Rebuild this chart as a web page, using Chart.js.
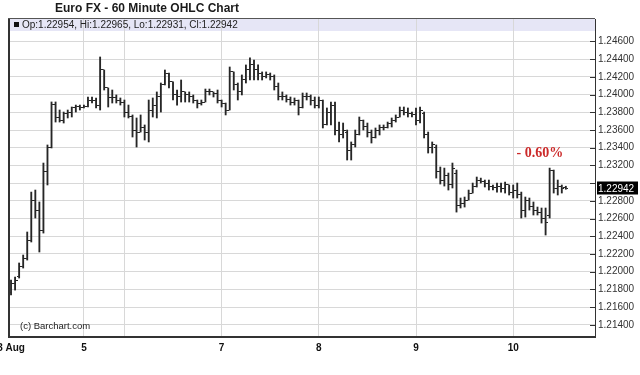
<!DOCTYPE html>
<html><head><meta charset="utf-8">
<script src="https://cdn.jsdelivr.net/npm/chart.js@4.4.0/dist/chart.umd.min.js"></script>
<style>html,body{margin:0;padding:0;background:#fff;}#wrap{width:640px;height:375px;position:relative;}</style>
</head><body><div id="wrap"><canvas id="c" width="640" height="375"></canvas></div>
<script>
// ---- data (hourly bars, index = bar sequence) ----
const opens = [1.21770,1.21871,1.21950,1.22063,1.22154,1.22357,1.22809,1.22696,1.22470,1.23126,
 1.23397,1.23883,1.23736,1.23713,1.23792,1.23803,1.23849,1.23871,1.23849,1.23871,
 1.23939,1.23928,1.23882,1.24278,1.24075,1.23962,1.23962,1.23939,1.23916,1.23803,
 1.23758,1.23600,1.23577,1.23623,1.23577,1.23826,1.23882,1.23984,1.24109,1.24233,
 1.24143,1.23996,1.23984,1.24030,1.23996,1.23984,1.23939,1.23894,1.23916,1.24030,
 1.24030,1.24007,1.23939,1.23905,1.23826,1.24256,1.24109,1.24030,1.24165,1.24278,
 1.24335,1.24278,1.24233,1.24210,1.24222,1.24199,1.24097,1.23984,1.23973,1.23950,
 1.23916,1.23939,1.23849,1.23984,1.23973,1.23939,1.23882,1.23939,1.23657,1.23803,
 1.23882,1.23600,1.23544,1.23577,1.23374,1.23431,1.23544,1.23713,1.23645,1.23577,
 1.23510,1.23600,1.23623,1.23634,1.23668,1.23713,1.23747,1.23826,1.23803,1.23781,
 1.23770,1.23713,1.23792,1.23544,1.23397,1.23397,1.23126,1.23035,1.23091,1.22979,
 1.23114,1.22753,1.22775,1.22809,1.22888,1.22967,1.23035,1.23024,1.23001,1.22967,
 1.22956,1.22967,1.22945,1.22979,1.22899,1.22922,1.22866,1.22696,1.22809,1.22741,
 1.22696,1.22673,1.22606,1.22640,1.23148,1.22945,1.22967,1.22954];
const highs = [1.21905,1.21939,1.22098,1.22188,1.22448,1.22899,1.22922,1.22787,1.23227,1.23431,
 1.23917,1.23917,1.23826,1.23803,1.23826,1.23860,1.23882,1.23882,1.23882,1.23973,
 1.23973,1.23962,1.24425,1.24278,1.24075,1.24052,1.23996,1.23962,1.23939,1.23882,
 1.23770,1.23736,1.23770,1.23657,1.23939,1.23962,1.24030,1.24131,1.24278,1.24244,
 1.24143,1.24052,1.24165,1.24030,1.24030,1.23996,1.23939,1.23939,1.24063,1.24063,
 1.24030,1.24052,1.23939,1.23905,1.24312,1.24256,1.24131,1.24222,1.24335,1.24414,
 1.24391,1.24335,1.24256,1.24256,1.24244,1.24222,1.24131,1.24030,1.23996,1.23973,
 1.23962,1.23939,1.24018,1.24018,1.23996,1.23973,1.23973,1.23939,1.23849,1.23916,
 1.23916,1.23690,1.23679,1.23600,1.23465,1.23600,1.23747,1.23713,1.23679,1.23600,
 1.23623,1.23657,1.23657,1.23690,1.23736,1.23770,1.23860,1.23860,1.23849,1.23803,
 1.23849,1.23860,1.23803,1.23577,1.23465,1.23431,1.23182,1.23170,1.23114,1.23227,
 1.23148,1.22832,1.22843,1.22922,1.23001,1.23069,1.23057,1.23035,1.23035,1.22979,
 1.23001,1.23001,1.23012,1.22979,1.22979,1.23001,1.22899,1.22843,1.22832,1.22787,
 1.22730,1.22719,1.22719,1.23170,1.23148,1.23035,1.22979,1.22965];
const lows = [1.21736,1.21792,1.21928,1.22041,1.22131,1.22335,1.22606,1.22222,1.22436,1.22979,
 1.23397,1.23690,1.23690,1.23679,1.23736,1.23747,1.23803,1.23826,1.23849,1.23860,
 1.23905,1.23849,1.23826,1.24052,1.23860,1.23905,1.23905,1.23882,1.23747,1.23736,
 1.23521,1.23408,1.23577,1.23487,1.23465,1.23747,1.23736,1.23803,1.24109,1.24075,
 1.23939,1.23882,1.23916,1.23916,1.23916,1.23905,1.23849,1.23882,1.23916,1.23996,
 1.23973,1.23905,1.23860,1.23770,1.23826,1.24052,1.23939,1.23996,1.24131,1.24165,
 1.24165,1.24165,1.24165,1.24188,1.24165,1.24052,1.23939,1.23939,1.23916,1.23882,
 1.23882,1.23770,1.23849,1.23939,1.23882,1.23849,1.23849,1.23623,1.23657,1.23657,
 1.23544,1.23465,1.23510,1.23261,1.23261,1.23408,1.23544,1.23600,1.23521,1.23453,
 1.23510,1.23544,1.23600,1.23623,1.23634,1.23690,1.23747,1.23770,1.23747,1.23747,
 1.23657,1.23679,1.23510,1.23340,1.23340,1.23057,1.22990,1.22967,1.22922,1.22945,
 1.22673,1.22719,1.22730,1.22809,1.22888,1.22956,1.23001,1.22956,1.22922,1.22922,
 1.22899,1.22899,1.22888,1.22866,1.22832,1.22832,1.22606,1.22617,1.22696,1.22640,
 1.22640,1.22549,1.22414,1.22606,1.22888,1.22866,1.22888,1.22931];
const closes = [1.21871,1.21905,1.22063,1.22154,1.22357,1.22809,1.22696,1.22470,1.23126,1.23397,
 1.23883,1.23736,1.23713,1.23792,1.23803,1.23849,1.23871,1.23849,1.23871,1.23939,
 1.23928,1.23882,1.24278,1.24075,1.23962,1.23962,1.23939,1.23916,1.23803,1.23758,
 1.23600,1.23577,1.23623,1.23577,1.23826,1.23882,1.23984,1.24109,1.24233,1.24143,
 1.23996,1.23984,1.24030,1.23996,1.23984,1.23939,1.23894,1.23916,1.24030,1.24030,
 1.24007,1.23939,1.23905,1.23826,1.24256,1.24109,1.24030,1.24165,1.24278,1.24335,
 1.24278,1.24233,1.24210,1.24222,1.24199,1.24097,1.23984,1.23973,1.23950,1.23916,
 1.23939,1.23849,1.23984,1.23973,1.23939,1.23882,1.23939,1.23657,1.23803,1.23882,
 1.23600,1.23544,1.23600,1.23374,1.23431,1.23544,1.23713,1.23645,1.23577,1.23510,
 1.23600,1.23623,1.23634,1.23668,1.23713,1.23747,1.23826,1.23803,1.23781,1.23770,
 1.23713,1.23826,1.23544,1.23397,1.23431,1.23126,1.23035,1.23091,1.22979,1.23170,
 1.22753,1.22775,1.22809,1.22888,1.22967,1.23035,1.23024,1.23001,1.22967,1.22956,
 1.22967,1.22945,1.22979,1.22899,1.22922,1.22866,1.22696,1.22809,1.22741,1.22696,
 1.22673,1.22606,1.22560,1.23148,1.22945,1.22967,1.22945,1.22942];

const dayTickIndex  = [0, 18, 28, 52, 76, 100, 124];
const dayTickLabels = ['3 Aug', '5', '', '7', '8', '9', '10'];
const yTickValues = [1.214,1.216,1.218,1.220,1.222,1.224,1.226,1.228,1.230,1.232,1.234,1.236,1.238,1.240,1.242,1.244,1.246];
const Y_MIN = 1.21262, Y_MAX = 1.24854;
const X_MIN = -0.5, X_MAX = 144.2;
const titleText = 'Euro FX - 60 Minute OHLC Chart';
const changeText = '- 0.60%';
const changeAt = {x: 130.6, y: 1.23335};
const creditText = '(c) Barchart.com';

const FONT = "'Liberation Sans', Arial, sans-serif";
const BAR = '#262626';
const GRID = '#d8d8d8';

function tickCanvas(side){
  const c = document.createElement('canvas');
  c.width = 5; c.height = 1;
  const g = c.getContext('2d');
  g.fillStyle = BAR;
  g.fillRect(side === 'left' ? 0 : 3, 0, 2, 1);
  return c;
}
const last = opens.length - 1;

const deco = {
  id: 'deco',
  beforeDraw(chart){
    const {ctx, chartArea:a} = chart;
    ctx.save();
    ctx.fillStyle = '#fff';
    ctx.fillRect(0,0,chart.width,chart.height);
    ctx.fillStyle = '#e6e6f6';
    ctx.fillRect(a.left, a.top, a.right-a.left, 12);
    ctx.restore();
  },
  afterDraw(chart){
    const {ctx, chartArea:a, scales} = chart;
    const y = scales.y, x = scales.x;
    ctx.save();
    // frame
    ctx.fillStyle = '#333';
    ctx.fillRect(a.left-1, a.top, 2, a.bottom-a.top);
    ctx.fillStyle = '#555';
    ctx.fillRect(a.left-1, a.top-1, a.right-a.left+1, 1);
    // inside tick marks
    ctx.fillStyle = '#333';
    yTickValues.forEach(v=>{
      const py = Math.round(y.getPixelForValue(v));
      ctx.fillRect(a.right-5, py, 5, 1);
    });
    // title
    ctx.fillStyle = '#1a1a1a';
    ctx.font = 'bold 12px ' + FONT;
    ctx.textAlign = 'center'; ctx.textBaseline = 'middle';
    ctx.fillText(titleText, 147, 8.5);
    // legend line
    ctx.fillStyle = '#111';
    ctx.fillRect(14, 22, 5, 5);
    ctx.font = '10px ' + FONT;
    ctx.textAlign = 'left';
    ctx.fillStyle = '#222';
    const leg = 'Op:' + opens[last].toFixed(5) + ', Hi:' + highs[last].toFixed(5) +
      ', Lo:' + lows[last].toFixed(5) + ', Cl:' + closes[last].toFixed(5);
    ctx.fillText(leg, 22, 25);
    // credit
    ctx.font = '9.5px ' + FONT;
    ctx.fillStyle = '#222';
    ctx.fillText(creditText, 20, 326);
    // change label
    ctx.font = 'bold 14px "Liberation Serif", "Times New Roman", serif';
    ctx.fillStyle = '#cc2a2a';
    ctx.textAlign = 'center';
    ctx.fillText(changeText, x.getPixelForValue(changeAt.x), y.getPixelForValue(changeAt.y));
    // last price box
    const py = y.getPixelForValue(closes[last]);
    ctx.fillStyle = '#000';
    ctx.fillRect(a.right+2, Math.round(py)-6.5, 41, 13);
    ctx.fillStyle = '#fff';
    ctx.font = '10px ' + FONT;
    ctx.textAlign = 'left';
    ctx.fillText(closes[last].toFixed(5), a.right+3, py+0.5);
    ctx.restore();
  }
};

new Chart(document.getElementById('c'), {
  type: 'bar',
  data: {
    datasets: [
      { type:'bar', data: highs.map((h,i)=>({x:i, y:[lows[i], h]})),
        backgroundColor: BAR, borderWidth: 0, barThickness: 1.2, grouped: false, order: 3 },
      { type:'scatter', data: opens.map((v,i)=>({x:i, y:v})),
        pointStyle: tickCanvas('left'), pointRadius: 2, order: 1 },
      { type:'scatter', data: closes.map((v,i)=>({x:i, y:v})),
        pointStyle: tickCanvas('right'), pointRadius: 2, order: 2 }
    ]
  },
  options: {
    responsive: false, animation: false, events: [],
    layout: { padding: { left: 9, top: 19, right: 0, bottom: 0 } },
    plugins: { legend: { display: false }, tooltip: { enabled: false }, title: { display: false } },
    scales: {
      x: {
        type: 'linear', min: X_MIN, max: X_MAX, offset: false,
        afterBuildTicks: s => { s.ticks = dayTickIndex.map(v => ({ value: v })); },
        afterFit: s => { s.height = 38; s.paddingLeft = 0; s.paddingRight = 0; },
        ticks: { autoSkip: false, maxRotation: 0, minRotation: 0, padding: 5, color: '#111',
          font: { family: FONT, size: 10, weight: 'bold' },
          callback: (v, i) => dayTickLabels[i] },
        grid: { offset: false, drawTicks: false, color: c => c.index === 0 ? 'rgba(0,0,0,0)' : GRID },
        border: { display: true, color: '#333', width: 2 }
      },
      y: {
        type: 'linear', position: 'right', min: Y_MIN, max: Y_MAX,
        afterBuildTicks: s => { s.ticks = yTickValues.map(v => ({ value: v })); },
        afterFit: s => { s.width = 45; s.paddingTop = 0; s.paddingBottom = 0; },
        ticks: { padding: 3, color: '#333', font: { family: FONT, size: 10 },
          callback: v => Math.abs(v - closes[closes.length-1]) < 0.0009 ? '' : v.toFixed(5) },
        grid: { drawTicks: false, color: GRID },
        border: { display: true, color: '#333', width: 1 }
      }
    }
  },
  plugins: [deco]
});
</script>
</body></html>
